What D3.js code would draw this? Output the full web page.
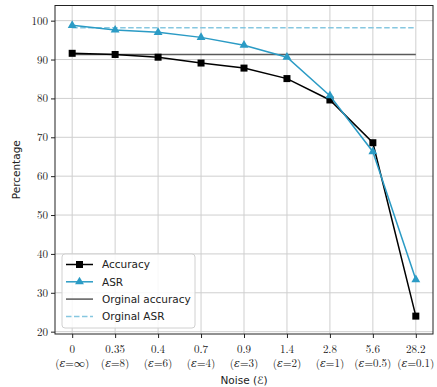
<!DOCTYPE html>
<html>
<head>
<meta charset="utf-8">
<script src="https://cdn.jsdelivr.net/npm/d3@7"></script>
<style>
  html, body { margin: 0; padding: 0; background: #fff; }
  svg { display: block; }
</style>
</head>
<body>
<svg id="chart" width="437" height="387"></svg>
<script>
// Noise levels (x categories) and their privacy budgets
const noiseLabels = ["0", "0.35", "0.4", "0.7", "0.9", "1.4", "2.8", "5.6", "28.2"];
const epsLabels = ["∞", "8", "6", "4", "3", "2", "1", "0.5", "0.1"];

// Series values (percent)
const accuracy = [91.6, 91.3, 90.6, 89.1, 87.8, 85.1, 79.6, 68.6, 24.0];
const asr = [98.8, 97.6, 97.0, 95.7, 93.7, 90.6, 80.7, 66.3, 33.4];

// Reference levels
const originalAccuracy = 91.3;
const originalAsr = 98.2;

const yTicks = [20, 30, 40, 50, 60, 70, 80, 90, 100];

const colAcc = "#000000";
const colAsr = "#2b9bc5";
const colOrigAcc = "#5a5a5a";
const colOrigAsr = "#86c7e0";

const svg = d3.select("#chart");
const plotLeft = 55, plotRight = 433, plotTop = 5.5, plotBottom = 334;

const x = d3.scaleLinear().domain([-0.4, 8.4]).range([plotLeft, plotRight]);
const y = d3.scaleLinear().domain([19.4, 103.9]).range([plotBottom, plotTop]);

const serif = "'Latin Modern Roman','CMU Serif','DejaVu Serif',serif";
const sans = "'DejaVu Sans','Noto Sans',sans-serif";

// Grid
const grid = svg.append("g").attr("stroke", "#cfcfcf").attr("stroke-width", 1);
grid.selectAll("line.gx").data(noiseLabels.map((d, i) => i)).join("line")
  .attr("class", "gx")
  .attr("x1", d => x(d)).attr("x2", d => x(d))
  .attr("y1", plotTop).attr("y2", plotBottom);
grid.selectAll("line.gy").data(yTicks).join("line")
  .attr("class", "gy")
  .attr("x1", plotLeft).attr("x2", plotRight)
  .attr("y1", d => y(d)).attr("y2", d => y(d));

// Reference lines
svg.append("line")
  .attr("x1", x(0)).attr("x2", x(8))
  .attr("y1", y(originalAccuracy)).attr("y2", y(originalAccuracy))
  .attr("stroke", colOrigAcc).attr("stroke-width", 1.5);
svg.append("line")
  .attr("x1", x(0)).attr("x2", x(8))
  .attr("y1", y(originalAsr)).attr("y2", y(originalAsr))
  .attr("stroke", colOrigAsr).attr("stroke-width", 1.5)
  .attr("stroke-dasharray", "5.5,2.5");

const line = d3.line().x((d, i) => x(i)).y(d => y(d));

// Accuracy series
svg.append("path").datum(accuracy)
  .attr("d", line).attr("fill", "none")
  .attr("stroke", colAcc).attr("stroke-width", 1.5);
svg.selectAll("rect.acc").data(accuracy).join("rect")
  .attr("class", "acc")
  .attr("x", (d, i) => x(i) - 3.5).attr("y", d => y(d) - 3.5)
  .attr("width", 7).attr("height", 7).attr("fill", colAcc);

// ASR series
svg.append("path").datum(asr)
  .attr("d", line).attr("fill", "none")
  .attr("stroke", colAsr).attr("stroke-width", 1.5);
const tri = d3.symbol().type(d3.symbolTriangle).size(34);
svg.selectAll("path.asr").data(asr).join("path")
  .attr("class", "asr")
  .attr("d", tri)
  .attr("transform", (d, i) => `translate(${x(i)},${y(d)})`)
  .attr("fill", colAsr);

// Frame
svg.append("rect")
  .attr("x", plotLeft).attr("y", plotTop)
  .attr("width", plotRight - plotLeft).attr("height", plotBottom - plotTop)
  .attr("fill", "none").attr("stroke", "#222").attr("stroke-width", 1);

// Y axis
const yAxis = d3.axisLeft(y).tickValues(yTicks).tickSize(4).tickPadding(3).tickSizeOuter(0);
const gy = svg.append("g").attr("transform", `translate(${plotLeft},0)`).call(yAxis);
gy.select(".domain").remove();
gy.selectAll("text").attr("font-family", serif).attr("font-size", 11).attr("fill", "#222");
gy.selectAll("line").attr("stroke", "#222");

// X axis
const xAxis = d3.axisBottom(x).tickValues(d3.range(noiseLabels.length)).tickSize(4).tickFormat("").tickSizeOuter(0);
const gx = svg.append("g").attr("transform", `translate(0,${plotBottom})`).call(xAxis);
gx.select(".domain").remove();
gx.selectAll("line").attr("stroke", "#222");

const xl = svg.append("g");
xl.selectAll("text.n").data(noiseLabels).join("text")
  .attr("class", "n")
  .attr("x", (d, i) => x(i)).attr("y", 353)
  .attr("text-anchor", "middle")
  .attr("font-family", serif).attr("font-size", 11).attr("fill", "#222")
  .text(d => d);
const el = xl.selectAll("text.e").data(epsLabels).join("text")
  .attr("class", "e")
  .attr("x", (d, i) => x(i)).attr("y", 367)
  .attr("text-anchor", "middle")
  .attr("font-family", serif).attr("font-size", 11).attr("fill", "#222");
el.append("tspan").text("(");
el.append("tspan").attr("font-style", "italic").text("ε");
el.append("tspan").text("=");
el.append("tspan").text(d => d + ")");

// Axis titles
svg.append("text")
  .attr("x", (plotLeft + plotRight) / 2).attr("y", 384)
  .attr("text-anchor", "middle")
  .attr("font-family", sans).attr("font-size", 10.5).attr("fill", "#222")
  .text("Noise (ℰ)");
svg.append("text")
  .attr("transform", `translate(20,${(plotTop + plotBottom) / 2}) rotate(-90)`)
  .attr("text-anchor", "middle")
  .attr("font-family", sans).attr("font-size", 10.5).attr("fill", "#222")
  .text("Percentage");

// Legend
const legendItems = [
  { label: "Accuracy", color: colAcc, marker: "square", dash: null },
  { label: "ASR", color: colAsr, marker: "triangle", dash: null },
  { label: "Orginal accuracy", color: colOrigAcc, marker: null, dash: null },
  { label: "Orginal ASR", color: colOrigAsr, marker: null, dash: "5.5,2.5" }
];
const lg = svg.append("g");
lg.append("rect")
  .attr("x", 62).attr("y", 254).attr("width", 133).attr("height", 74)
  .attr("rx", 3).attr("fill", "rgba(255,255,255,0.85)")
  .attr("stroke", "#d0d0d0").attr("stroke-width", 1);
legendItems.forEach((it, k) => {
  const cy = 264.5 + k * 17.3;
  lg.append("line")
    .attr("x1", 66).attr("x2", 93).attr("y1", cy).attr("y2", cy)
    .attr("stroke", it.color).attr("stroke-width", 1.5)
    .attr("stroke-dasharray", it.dash);
  if (it.marker === "square") {
    lg.append("rect").attr("x", 79.5 - 3.5).attr("y", cy - 3.5)
      .attr("width", 7).attr("height", 7).attr("fill", it.color);
  } else if (it.marker === "triangle") {
    lg.append("path").attr("d", tri)
      .attr("transform", `translate(79.5,${cy})`).attr("fill", it.color);
  }
  lg.append("text")
    .attr("x", 102).attr("y", cy + 3.8)
    .attr("font-family", sans).attr("font-size", 10.5).attr("fill", "#222")
    .text(it.label);
});
</script>
</body>
</html>
